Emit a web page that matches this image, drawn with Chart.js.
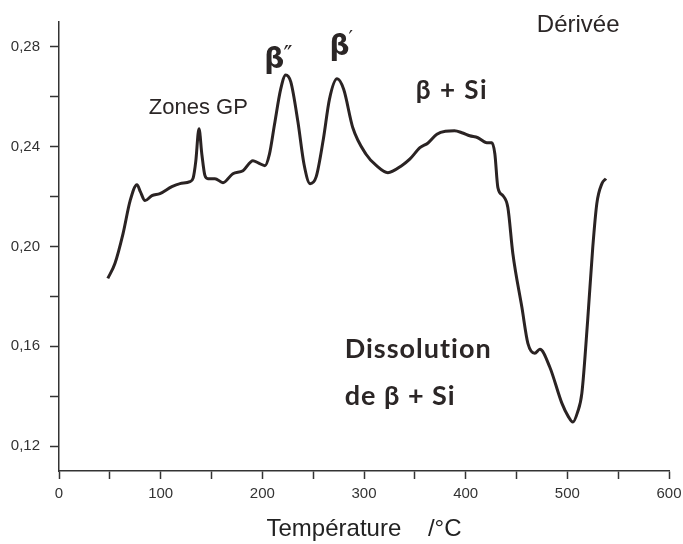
<!DOCTYPE html>
<html>
<head>
<meta charset="utf-8">
<script src="https://cdn.jsdelivr.net/npm/chart.js@4.4.1/dist/chart.umd.min.js"></script>
<style>
  html, body { margin: 0; padding: 0; background: #fff; }
  #wrap { width: 683px; height: 544px; }
</style>
</head>
<body>
<div id="wrap"><canvas id="chart" width="683" height="544"></canvas></div>
<script>
// --- Data ---
const temps = [48, 55, 63, 70, 76.7, 80, 84.6, 91.4, 99.3, 111, 119, 128.8, 132, 134.5, 137.7, 140.5, 143.5,
  146.5, 153.4, 161.3, 171, 181, 190.8, 196, 202.6, 207, 212, 218, 223, 228, 235, 241, 247, 253, 260, 266,
  273.5, 280, 289, 302, 312, 323.5, 337, 345, 355, 363, 371.7, 380, 389, 397, 404, 412, 420.8, 425.8, 428.7,
  431.7, 436.6, 441.5, 446.4, 455.3, 461.2, 468, 473, 482.8, 494.6, 501, 505.4, 510, 514.3, 520, 525, 529, 534, 538];
const deriv = [0.1872, 0.1932, 0.2052, 0.2184, 0.2248, 0.222, 0.2184, 0.2204, 0.2212, 0.224, 0.2252, 0.226, 0.2275, 0.234, 0.2472, 0.237, 0.2285,
  0.2272, 0.2272, 0.2256, 0.2292, 0.2304, 0.2344, 0.2335, 0.2324, 0.237, 0.249, 0.263, 0.2688, 0.266, 0.250, 0.233, 0.2252, 0.228, 0.243, 0.259,
  0.2672, 0.263, 0.2476, 0.237, 0.2325, 0.2296, 0.2324, 0.235, 0.2396, 0.2415, 0.245, 0.2462, 0.2464, 0.2455, 0.2444, 0.2436, 0.2416, 0.2416, 0.2372,
  0.2236, 0.2204, 0.2156, 0.1972, 0.1756, 0.1612, 0.1572, 0.1588, 0.1516, 0.1372, 0.1318, 0.1296, 0.1335, 0.1412, 0.1704, 0.1996, 0.2172, 0.2252, 0.2272];

const xTicks = [0, 50, 100, 150, 200, 250, 300, 350, 400, 450, 500, 550, 600];
const yTicks = [0.12, 0.14, 0.16, 0.18, 0.20, 0.22, 0.24, 0.26, 0.28];

// --- Annotations drawn on top ---
const annotations = [
  { text: 'Zones GP', x: 137, y: 0.2531, font: '22px "Liberation Sans", Arial', spacing: 0 },
  { text: 'Dérivée', x: 470, y: 0.286, font: '24px "Liberation Sans", Arial', spacing: 0 },
  { text: 'β + Si', x: 351, y: 0.2592, font: 'bold 26px Lato, "Open Sans"', spacing: 1.5 },
  { text: 'Dissolution', x: 281, y: 0.1552, font: 'bold 27px Lato, "Open Sans"', spacing: 1 },
  { text: 'de β + Si', x: 281, y: 0.1364, font: 'bold 27px Lato, "Open Sans"', spacing: 1 },
];
const primed = [
  { x: 202, y: 0.2716, prime: '″', size: 24, lift: 5 },
  { x: 266, y: 0.2768, prime: '′', size: 20, lift: 11 },
];

const labelPlugin = {
  id: 'labels',
  afterDatasetsDraw(chart) {
    const { ctx, scales } = chart;
    ctx.save();
    ctx.fillStyle = '#2b2626';
    ctx.textBaseline = 'alphabetic';
    annotations.forEach(a => {
      ctx.font = a.font;
      ctx.letterSpacing = a.spacing + 'px';
      ctx.textAlign = a.text === 'Zones GP' ? 'center' : 'left';
      ctx.fillText(a.text, scales.x.getPixelForValue(a.x), scales.y.getPixelForValue(a.y));
    });
    ctx.letterSpacing = '0px';
    primed.forEach(p => {
      const px = scales.x.getPixelForValue(p.x), py = scales.y.getPixelForValue(p.y);
      ctx.textAlign = 'left';
      ctx.font = 'bold 28px "DejaVu Sans"';
      ctx.fillText('β', px, py);
      const w = ctx.measureText('β').width;
      ctx.font = p.size + 'px "DejaVu Sans"';
      ctx.fillText(p.prime, px + w - 1, py - p.lift);
    });
    ctx.restore();
  }
};

const axisColor = '#333';
new Chart(document.getElementById('chart'), {
  type: 'line',
  data: {
    datasets: [{
      data: temps.map((t, i) => ({ x: t, y: deriv[i] })),
      borderColor: '#2a2323',
      borderWidth: 3,
      pointRadius: 0,
      fill: false,
      cubicInterpolationMode: 'monotone'
    }]
  },
  options: {
    responsive: false,
    animation: false,
    layout: { padding: { left: 0, right: 14, top: 22, bottom: 0 } },
    plugins: { legend: { display: false }, tooltip: { enabled: false } },
    scales: {
      x: {
        type: 'linear', min: 0, max: 600,
        afterBuildTicks: s => { s.ticks = xTicks.map(v => ({ value: v })); },
        afterFit: s => { s.height = 73; s.paddingLeft = 0; s.paddingRight = 0; },
        grid: { drawOnChartArea: false, tickLength: 8, tickColor: axisColor, tickWidth: 1.5 },
        border: { color: axisColor, width: 1.5 },
        ticks: {
          color: '#333', padding: 6, maxRotation: 0, autoSkip: false,
          font: { family: '"Liberation Sans", Arial', size: 15 },
          callback: v => (v % 100 === 0 ? String(v) : '')
        },
        title: {
          display: true, text: 'Température    /°C', color: '#222',
          font: { family: '"Liberation Sans", Arial', size: 24 }, padding: { top: 4, bottom: 0 }
        }
      },
      y: {
        type: 'linear', min: 0.11, max: 0.29,
        afterBuildTicks: s => { s.ticks = yTicks.map(v => ({ value: v })); },
        afterFit: s => { s.width = 59; s.paddingTop = 0; s.paddingBottom = 0; },
        grid: { drawOnChartArea: false, tickLength: 9, tickColor: axisColor, tickWidth: 1.5 },
        border: { color: axisColor, width: 1.5 },
        ticks: {
          color: '#333', padding: 10, autoSkip: false,
          font: { family: '"Liberation Sans", Arial', size: 15 },
          callback: v => (Math.round(v * 100) % 4 === 0 ? v.toFixed(2).replace('.', ',') : '')
        }
      }
    }
  },
  plugins: [labelPlugin]
});
</script>
</body>
</html>
